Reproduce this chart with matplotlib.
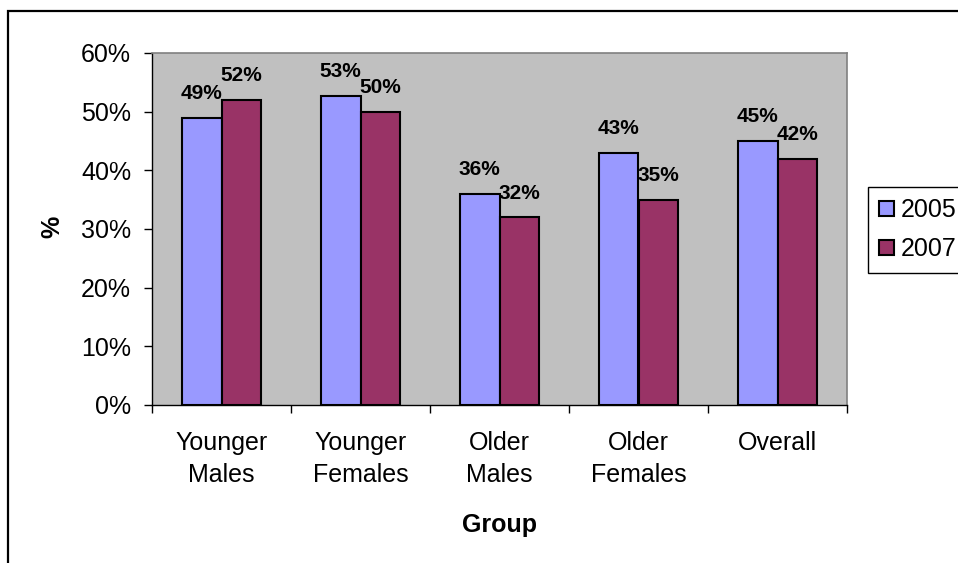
import matplotlib.pyplot as plt
import numpy as np
from matplotlib.patches import Rectangle

plt.rcParams['font.family'] = ['Liberation Sans', 'DejaVu Sans']

groups = ['Younger\nMales', 'Younger\nFemales', 'Older\nMales', 'Older\nFemales', 'Overall']
pct_2005 = [49, 52.7, 36, 43, 45]
pct_2007 = [52, 50, 32, 35, 42]
years = ['2005', '2007']
colors = ['#9999FF', '#993366']

fig = plt.figure(figsize=(9.58, 5.63), dpi=100)
ax = fig.add_axes([152 / 958, 1 - 405 / 563, (847 - 152) / 958, (405 - 53) / 563])
ax.set_facecolor('#C0C0C0')

x = np.arange(len(groups))
w = 1 / 3.5
for i, (vals, col, lab) in enumerate(zip([pct_2005, pct_2007], colors, years)):
    xs = x + (i - 0.5) * w
    ax.bar(xs, vals, width=w, color=col, edgecolor='black', linewidth=1.5, label=lab, zorder=3)
    for xx, v in zip(xs, vals):
        ax.annotate(f'{round(v)}%', (xx, v), xytext=(0, 13.5), textcoords='offset points',
                    ha='center', va='baseline', fontsize=15, fontweight='bold', zorder=4)

ax.set_xlim(-0.5, len(groups) - 0.5)
ax.set_ylim(0, 60)
ax.set_yticks(range(0, 61, 10))
ax.set_yticklabels([f'{t}%' for t in range(0, 61, 10)], fontsize=18)
ax.set_xticks(x)
ax.set_xticklabels(groups, fontsize=18, linespacing=1.4)
ax.set_xticks(np.arange(-0.5, len(groups), 1), minor=True)
ax.tick_params(axis='x', which='major', length=0, pad=19)
ax.tick_params(axis='x', which='minor', length=6, width=1, color='black', direction='out')
ax.tick_params(axis='y', length=6, width=1, color='black', pad=9)

for s in ['top', 'right']:
    ax.spines[s].set_color('#808080')
    ax.spines[s].set_linewidth(1.2)
for s in ['left', 'bottom']:
    ax.spines[s].set_color('black')
    ax.spines[s].set_linewidth(1)

fig.text(52 / 958, 1 - 227 / 563, '%', rotation=90, ha='center', va='center',
         fontsize=18, fontweight='bold')
fig.text(499 / 958, 1 - 525 / 563, 'Group', ha='center', va='center',
         fontsize=18, fontweight='bold')

leg = fig.legend(loc='upper left', bbox_to_anchor=(868 / 958, 1 - 187 / 563), fontsize=18,
                 frameon=True, fancybox=False, edgecolor='black', framealpha=1,
                 handlelength=0.6, handleheight=0.6, handletextpad=0.25,
                 labelspacing=0.6, borderpad=0.45, borderaxespad=0)
leg.get_frame().set_linewidth(1)

fig.patches.append(Rectangle((8 / 958, -0.1), 1.2, 1 - 11 / 563 + 0.1, transform=fig.transFigure,
                             fill=False, edgecolor='black', linewidth=1.6, zorder=0))

fig.savefig('out.png', dpi=100, facecolor='white')
